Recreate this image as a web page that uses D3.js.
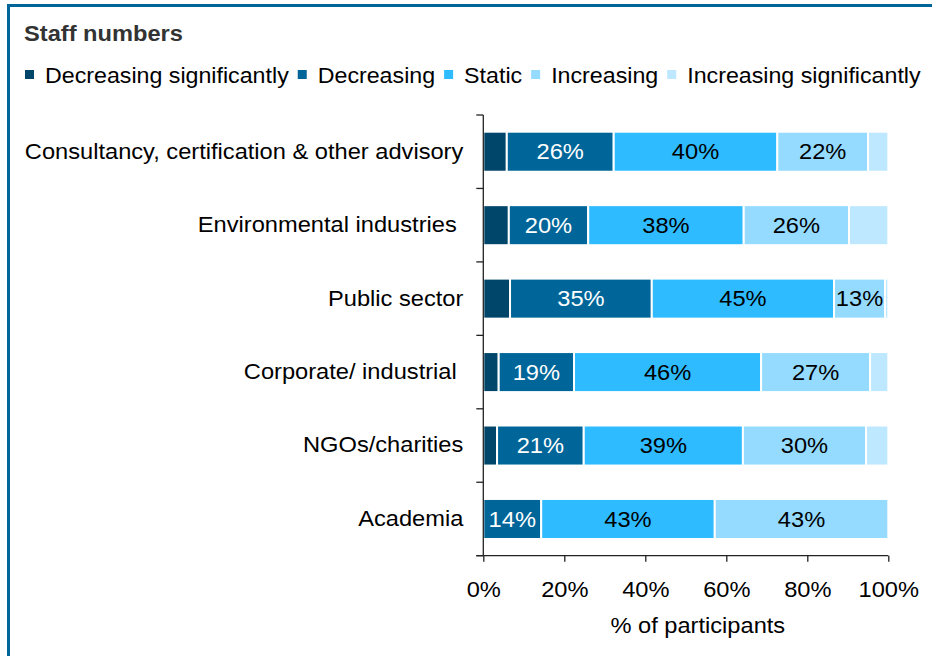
<!DOCTYPE html>
<html>
<head>
<meta charset="utf-8">
<script src="https://cdn.jsdelivr.net/npm/d3@7"></script>
<style>
  body { margin: 0; background: #fff; }
  svg { display: block; font-family: "Liberation Sans", Arial, sans-serif; }
  text { white-space: pre; }
</style>
</head>
<body>
<script>
// Staff numbers by sector, % of participants in each trend group
const categories = ["Consultancy, certification & other advisory", "Environmental industries ", "Public sector", "Corporate/ industrial ", "NGOs/charities", "Academia"];
const seriesNames = ["Decreasing significantly", "Decreasing", "Static", "Increasing", "Increasing significantly"];
const decreasingSig = [5.8, 6.3, 6.6, 3.8, 3.4, 0];
const decreasing = [26.4, 19.6, 35.0, 18.6, 21.4, 14.3];
const staticVals = [40.4, 38.4, 45.0, 46.2, 39.3, 42.85];
const increasing = [22.4, 26.0, 12.6, 26.9, 30.4, 42.85];
const increasingSig = [5.0, 9.7, 0.8, 4.5, 5.5, 0];
const xTicks = [0, 20, 40, 60, 80, 100];

const colors = ["#00466b", "#006699", "#2ebbff", "#94dbff", "#bde8ff"];
const textColors = ["#fff", "#fff", "#000", "#000", "#000"];

const W = 932, H = 656;
const FS = 21.5, SX = 1.1;   // the original text is a bit wider than the font
const svg = d3.select("body").append("svg").attr("width", W).attr("height", H);

// stretch text horizontally around its own anchor point
function stretch(sel, k = SX) {
  sel.each(function () {
    const ax = +this.getAttribute("x") || 0;
    d3.select(this).attr("transform", `translate(${ax},0) scale(${k},1) translate(${-ax},0)`);
  });
}

// frame: top and left rules
svg.append("rect").attr("x", 7).attr("y", 4).attr("width", W - 7).attr("height", 3).attr("fill", "#006699");
svg.append("rect").attr("x", 7).attr("y", 4).attr("width", 3).attr("height", H - 4).attr("fill", "#006699");

svg.append("text").attr("x", 24).attr("y", 41)
  .attr("font-size", FS).attr("font-weight", "bold").attr("fill", "#333")
  .text("Staff numbers").call(stretch);

// legend
const LSX = 1.08;
let lx = 25;
seriesNames.forEach((s, i) => {
  svg.append("rect").attr("x", lx).attr("y", 70).attr("width", 9).attr("height", 9).attr("fill", colors[i]);
  const t = svg.append("text").attr("x", lx + 20).attr("y", 83).attr("font-size", FS).attr("fill", "#000").text(s).call(stretch, LSX);
  lx += 20 + t.node().getComputedTextLength() * LSX + 9;
});

const rows = categories.map((c, i) => {
  const o = { name: c };
  o[seriesNames[0]] = decreasingSig[i];
  o[seriesNames[1]] = decreasing[i];
  o[seriesNames[2]] = staticVals[i];
  o[seriesNames[3]] = increasing[i];
  o[seriesNames[4]] = increasingSig[i];
  return o;
});
const stacked = d3.stack().keys(seriesNames)(rows);

const x = d3.scaleLinear().domain([0, 100]).range([483.3, 888.3]);
const y = d3.scaleBand().domain(categories).range([115, 555.7]).paddingInner(0.455).paddingOuter(0.2275);

const g = svg.append("g");
stacked.forEach((layer, li) => {
  const lg = g.append("g");
  lg.selectAll("rect").data(layer).join("rect")
    .attr("x", d => x(d[0]))
    .attr("y", d => y(d.data.name))
    .attr("width", d => x(d[1]) - x(d[0]))
    .attr("height", y.bandwidth())
    .attr("fill", colors[li])
    .attr("stroke", "#fff")
    .attr("stroke-width", d => (d[1] - d[0]) > 0 ? 2 : 0);
  lg.selectAll("text").data(layer.filter(d => d[1] - d[0] >= 10)).join("text")
    .attr("x", d => (x(d[0]) + x(d[1])) / 2)
    .attr("y", d => y(d.data.name) + y.bandwidth() / 2)
    .attr("dy", "0.36em")
    .attr("text-anchor", "middle")
    .attr("font-size", FS)
    .attr("fill", textColors[li])
    .text(d => Math.round(d[1] - d[0]) + "%")
    .call(stretch);
});

// y axis: labels at band centres, ticks at band edges
const yAxis = svg.append("g").attr("transform", `translate(${x(0)},0)`)
  .call(d3.axisLeft(y).tickSize(0).tickPadding(20));
yAxis.select(".domain").remove();
yAxis.selectAll("text").attr("font-size", FS).attr("fill", "#000").attr("font-family", null).call(stretch);
const edges = categories.map(c => y(c) - y.step() * y.paddingInner() / 2).concat([555.7]);
edges[0] = 115;
svg.append("g").selectAll("line").data(edges).join("line")
  .attr("x1", x(0) - 7).attr("x2", x(0)).attr("y1", d => d).attr("y2", d => d)
  .attr("stroke", "#222").attr("stroke-width", 1.3);
svg.append("line").attr("x1", x(0)).attr("x2", x(0)).attr("y1", 115).attr("y2", 555.7)
  .attr("stroke", "#222").attr("stroke-width", 1.3);

// x axis
const xAxis = svg.append("g").attr("transform", "translate(0,555.7)")
  .call(d3.axisBottom(x).tickValues(xTicks).tickFormat(d => d + "%").tickSize(6).tickSizeOuter(0).tickPadding(20));
xAxis.select(".domain").remove();
xAxis.selectAll("line").attr("stroke", "#222").attr("stroke-width", 1.3);
xAxis.selectAll("text").attr("font-size", FS).attr("fill", "#000").attr("font-family", null).call(stretch);
svg.append("line").attr("x1", x(0) - 7).attr("x2", x(100)).attr("y1", 555.7).attr("y2", 555.7)
  .attr("stroke", "#222").attr("stroke-width", 1.3);

svg.append("text").attr("x", (x(0) + x(100)) / 2 + 12).attr("y", 633)
  .attr("text-anchor", "middle").attr("font-size", FS).attr("fill", "#000")
  .text("% of participants").call(stretch);
</script>
</body>
</html>
